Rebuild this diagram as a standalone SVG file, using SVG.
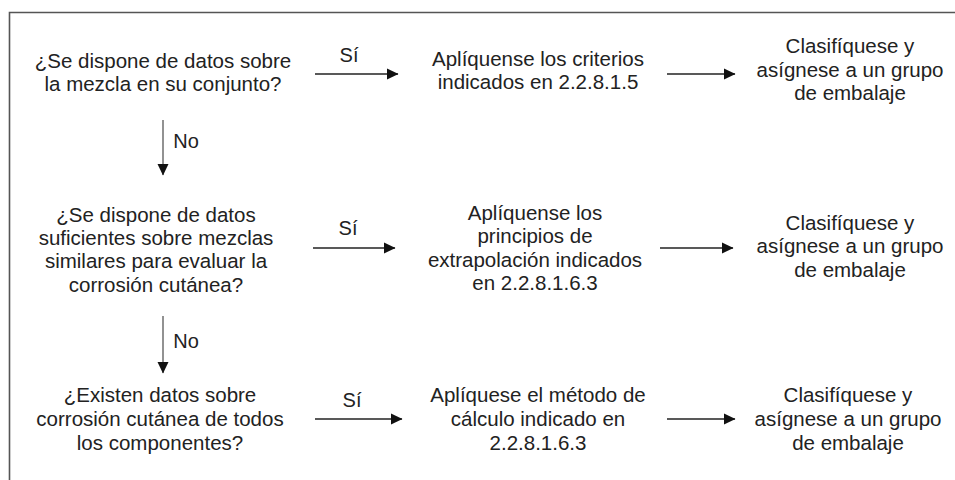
<svg xmlns="http://www.w3.org/2000/svg" width="955" height="480" viewBox="0 0 955 480">
<defs>
<style>
text{font-family:"Liberation Sans",Arial,sans-serif;font-size:20.5px;fill:#222;text-anchor:middle}
.lbl{font-size:20px}
.h{stroke:#222;stroke-width:1.6;fill:none}
.v{stroke:#777;stroke-width:1.6;fill:none}
.frame{stroke:#555;stroke-width:1.6;fill:none}
</style>
<marker id="ah" markerUnits="userSpaceOnUse" markerWidth="12" markerHeight="12" viewBox="0 0 12 12" refX="11" refY="6" orient="auto">
<path d="M0,0.5 L11.5,6 L0,11.5 Z" fill="#111"/>
</marker>
</defs>
<rect width="955" height="480" fill="#fff"/>
<path class="frame" d="M9.5,480 V12.5 H955"/>

<g id="q1"><text x="163" y="68">¿Se dispone de datos sobre</text><text x="163" y="91">la mezcla en su conjunto?</text></g>
<g id="a1"><text x="538" y="66">Aplíquense los criterios</text><text x="538" y="89">indicados en 2.2.8.1.5</text></g>
<g id="c1"><text x="850" y="53">Clasifíquese y</text><text x="850" y="77">asígnese a un grupo</text><text x="850" y="100">de embalaje</text></g>

<g id="q2"><text x="156" y="222">¿Se dispone de datos</text><text x="156" y="245">suficientes sobre mezclas</text><text x="156" y="268">similares para evaluar la</text><text x="156" y="292">corrosión cutánea?</text></g>
<g id="a2"><text x="535" y="220">Aplíquense los</text><text x="535" y="243">principios de</text><text x="535" y="267">extrapolación indicados</text><text x="535" y="290">en 2.2.8.1.6.3</text></g>
<g id="c2"><text x="850" y="230">Clasifíquese y</text><text x="850" y="253">asígnese a un grupo</text><text x="850" y="277">de embalaje</text></g>

<g id="q3"><text x="160" y="402">¿Existen datos sobre</text><text x="160" y="426">corrosión cutánea de todos</text><text x="160" y="450">los componentes?</text></g>
<g id="a3"><text x="538" y="402">Aplíquese el método de</text><text x="538" y="426">cálculo indicado en</text><text x="538" y="450">2.2.8.1.6.3</text></g>
<g id="c3"><text x="848" y="402">Clasifíquese y</text><text x="848" y="426">asígnese a un grupo</text><text x="848" y="450">de embalaje</text></g>

<g id="connectors">
<line class="h" x1="315" y1="74" x2="398" y2="74" marker-end="url(#ah)"/>
<line class="h" x1="667" y1="74" x2="735" y2="74" marker-end="url(#ah)"/>
<line class="h" x1="313" y1="248" x2="395" y2="248" marker-end="url(#ah)"/>
<line class="h" x1="660" y1="248" x2="733" y2="248" marker-end="url(#ah)"/>
<line class="h" x1="315" y1="419" x2="402" y2="419" marker-end="url(#ah)"/>
<line class="h" x1="667" y1="419" x2="735" y2="419" marker-end="url(#ah)"/>
<line class="v" x1="163" y1="120" x2="163" y2="175" marker-end="url(#ah)"/>
<line class="v" x1="163" y1="316" x2="163" y2="373" marker-end="url(#ah)"/>
<text class="lbl" x="349" y="62">Sí</text>
<text class="lbl" x="348" y="235">Sí</text>
<text class="lbl" x="352" y="407">Sí</text>
<text class="lbl" x="186" y="148">No</text>
<text class="lbl" x="186" y="348">No</text>
</g>
</svg>
